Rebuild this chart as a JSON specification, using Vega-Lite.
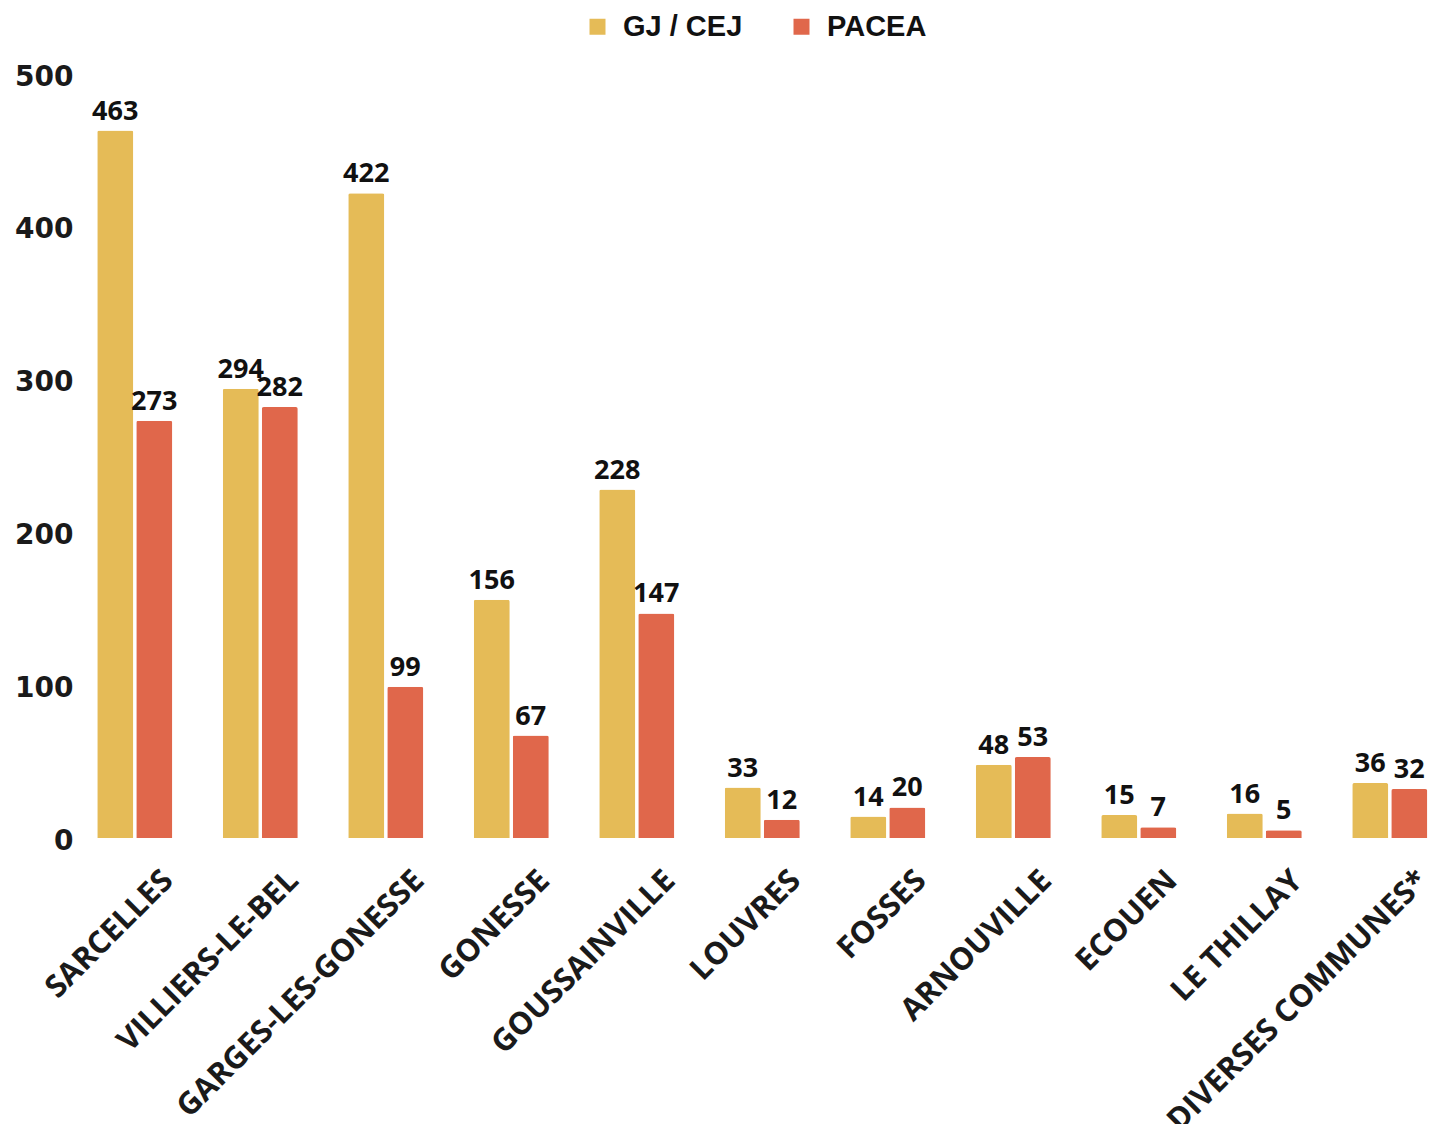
{
  "$schema": "https://vega.github.io/schema/vega-lite/v6.json",
  "autosize": {"type": "none"},
  "padding": {"left": 72, "top": 74, "right": 0, "bottom": 286},
  "width": 1380.5,
  "height": 764,
  "background": "white",
  "data": {
    "values": [
      {"commune": "SARCELLES", "serie": "GJ / CEJ", "valeur": 463},
      {"commune": "SARCELLES", "serie": "PACEA", "valeur": 273},
      {"commune": "VILLIERS-LE-BEL", "serie": "GJ / CEJ", "valeur": 294},
      {"commune": "VILLIERS-LE-BEL", "serie": "PACEA", "valeur": 282},
      {"commune": "GARGES-LES-GONESSE", "serie": "GJ / CEJ", "valeur": 422},
      {"commune": "GARGES-LES-GONESSE", "serie": "PACEA", "valeur": 99},
      {"commune": "GONESSE", "serie": "GJ / CEJ", "valeur": 156},
      {"commune": "GONESSE", "serie": "PACEA", "valeur": 67},
      {"commune": "GOUSSAINVILLE", "serie": "GJ / CEJ", "valeur": 228},
      {"commune": "GOUSSAINVILLE", "serie": "PACEA", "valeur": 147},
      {"commune": "LOUVRES", "serie": "GJ / CEJ", "valeur": 33},
      {"commune": "LOUVRES", "serie": "PACEA", "valeur": 12},
      {"commune": "FOSSES", "serie": "GJ / CEJ", "valeur": 14},
      {"commune": "FOSSES", "serie": "PACEA", "valeur": 20},
      {"commune": "ARNOUVILLE", "serie": "GJ / CEJ", "valeur": 48},
      {"commune": "ARNOUVILLE", "serie": "PACEA", "valeur": 53},
      {"commune": "ECOUEN", "serie": "GJ / CEJ", "valeur": 15},
      {"commune": "ECOUEN", "serie": "PACEA", "valeur": 7},
      {"commune": "LE THILLAY", "serie": "GJ / CEJ", "valeur": 16},
      {"commune": "LE THILLAY", "serie": "PACEA", "valeur": 5},
      {"commune": "DIVERSES COMMUNES*", "serie": "GJ / CEJ", "valeur": 36},
      {"commune": "DIVERSES COMMUNES*", "serie": "PACEA", "valeur": 32}
    ]
  },
  "encoding": {
    "x": {
      "field": "commune", "type": "nominal", "sort": null, "title": null,
      "scale": {"paddingInner": 0, "paddingOuter": 0},
      "axis": {
        "domain": false, "ticks": false, "grid": false,
        "labelAngle": -45, "labelOffset": 23, "labelPadding": 27,
        "labelFont": "Open Sans", "labelFontWeight": "bold", "labelFontSize": 31,
        "labelColor": "#1a1a1a", "labelLimit": 600
      }
    },
    "xOffset": {
      "field": "serie", "type": "nominal",
      "scale": {"paddingInner": 0.077, "paddingOuter": 0.647}
    },
    "y": {
      "field": "valeur", "type": "quantitative", "title": null,
      "scale": {"domain": [0, 500], "nice": false},
      "axis": {
        "domain": false, "ticks": false, "grid": false,
        "values": [0, 100, 200, 300, 400, 500],
        "labelPadding": -1, "labelOffset": 3,
        "labelFont": "DejaVu Sans", "labelFontWeight": "bold", "labelFontSize": 28,
        "labelColor": "#1a1a1a"
      }
    }
  },
  "layer": [
    {
      "mark": {"type": "bar", "cornerRadiusTopLeft": 2, "cornerRadiusTopRight": 2},
      "encoding": {
        "color": {
          "field": "serie", "type": "nominal",
          "scale": {"domain": ["GJ / CEJ", "PACEA"], "range": ["#E5BB57", "#E0674B"]},
          "legend": {
            "title": null, "orient": "none", "legendX": 511, "legendY": -62, "direction": "horizontal",
            "symbolType": "square", "symbolSize": 256, "symbolStrokeWidth": 0,
            "labelFont": "Liberation Sans", "labelFontWeight": "bold", "labelFontSize": 29,
            "labelColor": "#111111", "labelOffset": 11, "columnPadding": 44
          }
        }
      }
    },
    {
      "mark": {
        "type": "text", "baseline": "alphabetic", "dy": -11,
        "font": "Open Sans", "fontWeight": "bold", "fontSize": 27, "color": "#111111"
      },
      "encoding": {"text": {"field": "valeur", "type": "quantitative"}}
    }
  ],
  "config": {"view": {"stroke": null}}
}
